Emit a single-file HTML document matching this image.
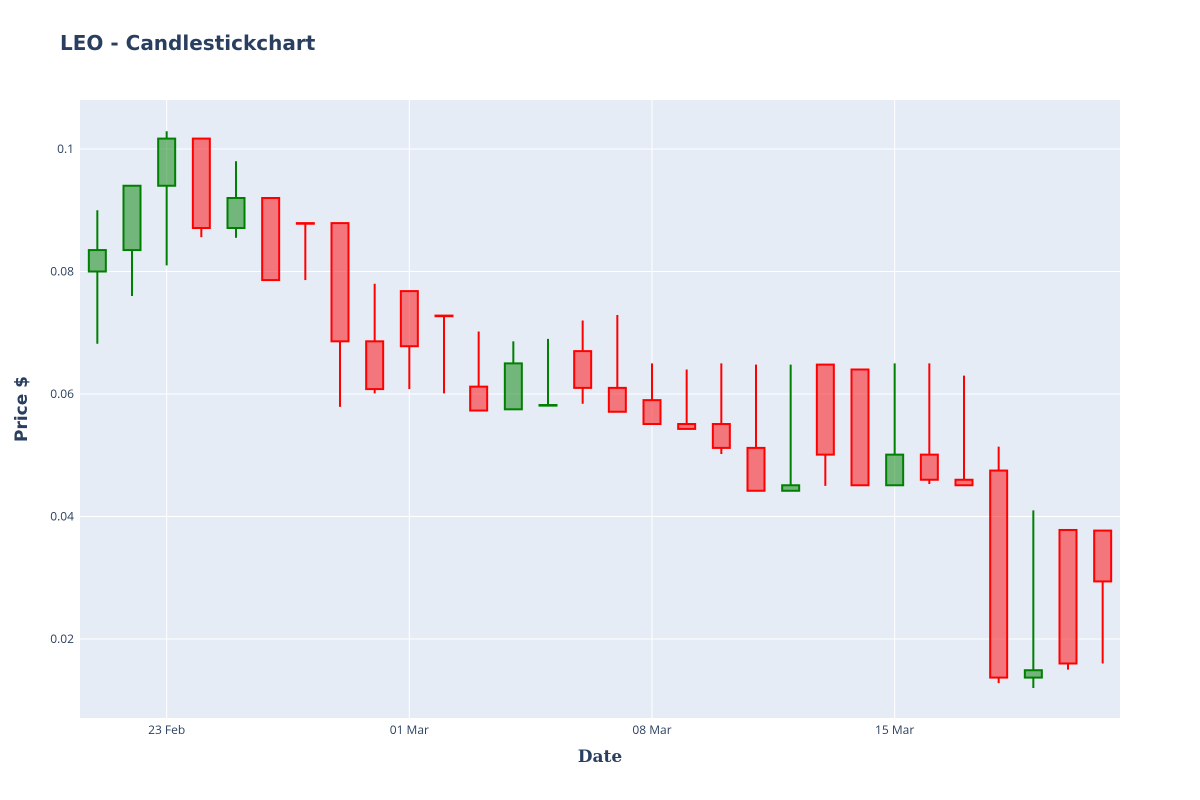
<!DOCTYPE html>
<html><head><meta charset="utf-8"><style>
body{margin:0;background:#fff;}
svg{display:block;font-family:"Open Sans","Liberation Sans",sans-serif;}
</style></head><body>
<svg id="chart" width="1200" height="800">
<rect x="0" y="0" width="1200" height="800" fill="#fff"/>
<rect x="80" y="100" width="1040" height="618" fill="#E5ECF6"/>
<g id="grid"></g>
<g id="candles"></g>
<g id="ticks"></g>
<text x="60" y="50" font-size="20" font-weight="bold" fill="#2a3f5f" font-family="DejaVu Sans, sans-serif">LEO - Candlestickchart</text>
<text x="600" y="762" font-size="17" font-weight="bold" fill="#2a3f5f" text-anchor="middle" font-family="DejaVu Serif, serif">Date</text>
<text x="27" y="409" font-size="17" font-weight="bold" fill="#2a3f5f" text-anchor="middle" font-family="DejaVu Sans, sans-serif" transform="rotate(-90 27 409)">Price $</text>
</svg>
<script>
const dates = ["2020-02-21","2020-02-22","2020-02-23","2020-02-24","2020-02-25","2020-02-26","2020-02-27","2020-02-28","2020-02-29","2020-03-01","2020-03-02","2020-03-03","2020-03-04","2020-03-05","2020-03-06","2020-03-07","2020-03-08","2020-03-09","2020-03-10","2020-03-11","2020-03-12","2020-03-13","2020-03-14","2020-03-15","2020-03-16","2020-03-17","2020-03-18","2020-03-19","2020-03-20","2020-03-21"];
const openV  = [0.080,0.0835,0.094,0.1017,0.0871,0.092,0.0879,0.0879,0.0686,0.0768,0.0728,0.0612,0.0575,0.0581,0.067,0.061,0.059,0.0551,0.0551,0.0512,0.0442,0.0648,0.064,0.0451,0.0501,0.046,0.0475,0.0137,0.0378,0.0377];
const highV  = [0.090,0.094,0.1029,0.1017,0.098,0.092,0.0879,0.0879,0.078,0.0768,0.0728,0.0702,0.0686,0.069,0.072,0.0729,0.065,0.064,0.065,0.0648,0.0648,0.0648,0.064,0.065,0.065,0.063,0.0514,0.041,0.0378,0.0377];
const lowV   = [0.0682,0.076,0.081,0.0856,0.0855,0.0786,0.0786,0.0579,0.0601,0.0608,0.0601,0.0573,0.0575,0.0581,0.0584,0.0571,0.0551,0.0543,0.0502,0.0442,0.0442,0.045,0.0451,0.0451,0.0453,0.0451,0.0128,0.012,0.015,0.016];
const closeV = [0.0835,0.094,0.1017,0.0871,0.092,0.0786,0.0878,0.0686,0.0608,0.0678,0.0727,0.0573,0.065,0.0582,0.061,0.0571,0.0551,0.0543,0.0512,0.0442,0.0451,0.0501,0.0451,0.0501,0.046,0.0451,0.0137,0.0149,0.016,0.0294];
const yTicks = [0.02,0.04,0.06,0.08,0.1];
const yTickLabels = ["0.02","0.04","0.06","0.08","0.1"];
const xTicks = ["2020-02-23","2020-03-01","2020-03-08","2020-03-15"];
const xTickLabels = ["23 Feb","01 Mar","08 Mar","15 Mar"];

const NS="http://www.w3.org/2000/svg";
const DAY=86400000;
const t0=Date.parse("2020-02-21")-0.5*DAY, t1=Date.parse("2020-03-21")+0.5*DAY;
const xS=d=>80+(Date.parse(d)-t0)/(t1-t0)*1040;
const yS=v=>149+(0.1-v)*6125;
function mk(tag,attrs,parent){const e=document.createElementNS(NS,tag);for(const k in attrs)e.setAttribute(k,attrs[k]);parent.appendChild(e);return e;}
const grid=document.getElementById('grid'),ticks=document.getElementById('ticks'),cg=document.getElementById('candles');
yTicks.forEach((v,i)=>{
  const l=mk('line',{x1:80,x2:1120,y1:yS(v),y2:yS(v),stroke:'#fff','stroke-width':1},grid);
  
  
  const t=mk('text',{x:74,y:yS(v)+4,'font-size':12,fill:'#2a3f5f','text-anchor':'end'},ticks);
  t.textContent=yTickLabels[i];
  
  
});
xTicks.forEach((d,i)=>{
  const l=mk('line',{x1:xS(d),x2:xS(d),y1:100,y2:718,stroke:'#fff','stroke-width':1},grid);
  
  
  const t=mk('text',{x:xS(d),y:734,'font-size':12,fill:'#2a3f5f','text-anchor':'middle'},ticks);
  t.textContent=xTickLabels[i];
  
  
});
dates.forEach((d,i)=>{
  const up=closeV[i]>=openV[i];
  const col=up?'#008000':'#ff0000';
  const fill=up?'rgba(0,128,0,0.5)':'rgba(255,0,0,0.5)';
  const x=xS(d),hw=8.5;
  const top=Math.max(openV[i],closeV[i]),bot=Math.min(openV[i],closeV[i]);
  const g=mk('g',{},cg);
  
  
  mk('line',{x1:x,x2:x,y1:yS(highV[i]),y2:yS(top),stroke:col,'stroke-width':2},g);
  mk('line',{x1:x,x2:x,y1:yS(bot),y2:yS(lowV[i]),stroke:col,'stroke-width':2},g);
  mk('rect',{x:x-hw,y:yS(top),width:2*hw,height:Math.max(yS(bot)-yS(top),0.5),fill:fill,stroke:col,'stroke-width':2},g);
});
</script>
</body></html>
